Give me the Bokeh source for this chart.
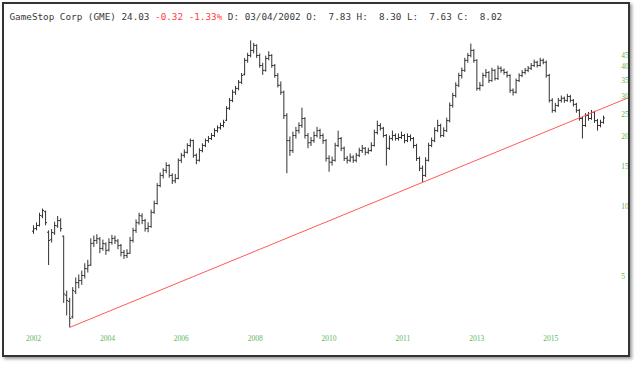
import numpy as np
from bokeh.plotting import figure
from bokeh.models import Range1d, FixedTicker, Label
from bokeh.embed import file_html
from bokeh.resources import INLINE

# ---- data (weekly-ish OHLC bars) ----
opens = [7.83, 8.05, 8.30, 9.10, 9.50, 7.75, 7.20, 7.70, 8.25, 8.70,
         7.45, 4.15, 3.90, 3.35, 4.30, 4.70, 4.80, 5.05, 5.40, 5.60,
         6.95, 7.15, 7.25, 6.60, 6.90, 6.50, 7.00, 7.30, 7.10, 6.80,
         6.35, 6.15, 6.30, 7.15, 7.90, 8.50, 9.10, 8.70, 8.05, 8.20,
         9.45, 10.3, 12.3, 13.6, 14.3, 15.0, 13.6, 12.9, 13.2, 15.8,
         16.6, 17.1, 18.3, 19.2, 16.6, 15.8, 17.4, 18.3, 19.2, 19.6,
         20.2, 21.2, 21.8, 22.3, 23.5, 26.5, 28.6, 31.0, 32.2, 34.2,
         37.0, 42.5, 44.6, 46.9, 49.3, 44.6, 40.4, 38.5, 43.3, 44.6,
         40.4, 36.6, 33.2, 31.0, 24.6, 19.2, 17.4, 20.2, 21.2, 22.3,
         23.9, 20.2, 18.8, 19.2, 20.2, 21.2, 20.2, 19.2, 16.1, 15.5,
         15.8, 18.3, 19.6, 17.8, 16.1, 15.8, 16.3, 15.8, 16.6, 17.4,
         17.8, 17.1, 17.4, 18.3, 20.8, 22.3, 21.7, 20.2, 17.8, 19.6,
         20.2, 19.6, 19.8, 20.2, 19.2, 20.0, 19.6, 18.3, 16.1, 14.6,
         13.6, 15.8, 18.3, 19.2, 21.2, 22.3, 20.2, 21.2, 23.4, 27.2,
         30.0, 33.2, 36.6, 38.5, 42.5, 44.6, 46.9, 42.5, 32.2, 33.2,
         36.6, 37.7, 34.8, 38.5, 35.5, 39.3, 38.5, 37.7, 36.6, 31.6,
         31.0, 34.8, 36.6, 37.7, 38.5, 39.3, 40.4, 41.7, 40.4, 42.5,
         41.7, 36.6, 28.6, 25.9, 27.2, 28.6, 29.2, 28.6, 29.7, 28.6,
         27.5, 25.9, 23.9, 22.3, 24.6, 23.9, 25.4, 23.4, 22.3, 23.0]

highs = [8.30, 8.55, 9.40, 9.80, 9.60, 7.90, 8.00, 8.60, 9.10, 8.90,
         7.50, 4.35, 4.05, 4.50, 4.95, 5.10, 5.30, 5.70, 5.90, 7.30,
         7.50, 7.60, 7.40, 7.20, 7.00, 7.30, 7.55, 7.50, 7.25, 6.90,
         6.50, 6.55, 7.40, 8.10, 8.80, 9.40, 9.35, 8.85, 8.55, 9.70,
         10.6, 12.6, 14.0, 14.6, 15.5, 15.2, 13.9, 13.8, 16.1, 17.0,
         17.6, 18.7, 19.6, 19.4, 16.9, 17.8, 18.7, 19.6, 20.1, 20.7,
         21.7, 22.3, 22.9, 23.6, 27.0, 29.3, 31.8, 33.0, 35.0, 37.5,
         43.5, 45.8, 51.8, 50.5, 49.8, 45.5, 41.5, 44.5, 46.5, 45.2,
         41.0, 37.5, 34.5, 31.5, 25.2, 20.0, 21.0, 22.0, 23.0, 26.6,
         24.2, 20.7, 19.9, 21.0, 22.0, 21.6, 20.6, 19.5, 16.6, 16.4,
         18.8, 21.2, 19.9, 18.1, 16.5, 16.9, 16.6, 17.0, 17.9, 18.4,
         18.0, 17.9, 18.9, 21.4, 23.4, 22.8, 22.0, 20.5, 20.2, 21.2,
         20.6, 20.6, 21.0, 20.5, 20.6, 20.4, 19.9, 18.6, 16.4, 15.0,
         16.3, 18.8, 19.8, 21.9, 23.6, 22.7, 21.9, 24.1, 28.0, 30.8,
         34.2, 37.6, 39.6, 43.6, 45.7, 50.2, 47.5, 43.0, 34.3, 37.6,
         39.0, 38.2, 39.5, 39.0, 40.4, 40.0, 39.2, 38.2, 37.0, 32.2,
         35.5, 37.4, 38.6, 39.4, 40.2, 41.4, 42.8, 42.3, 43.6, 43.3,
         42.4, 37.2, 29.2, 27.9, 29.3, 30.0, 29.7, 30.5, 30.2, 29.0,
         27.9, 26.3, 24.3, 25.2, 25.5, 26.0, 25.8, 23.8, 23.6, 24.6]

lows = [7.63, 7.90, 8.20, 8.90, 8.30, 5.60, 7.00, 7.55, 8.10, 7.80,
        3.85, 3.40, 3.02, 3.30, 4.20, 4.45, 4.60, 4.90, 5.20, 5.55,
        6.70, 6.90, 6.30, 6.45, 6.20, 6.40, 6.85, 6.90, 6.55, 6.10,
        5.95, 6.00, 6.25, 7.00, 7.70, 8.35, 8.40, 7.80, 7.75, 8.10,
        9.30, 10.2, 12.1, 13.2, 13.9, 13.3, 12.5, 12.6, 13.1, 15.4,
        16.2, 16.9, 18.0, 16.2, 15.2, 15.6, 17.1, 18.0, 18.8, 19.3,
        19.9, 20.8, 21.4, 21.9, 23.3, 26.0, 28.1, 30.2, 31.6, 33.6,
        36.6, 41.5, 43.8, 45.5, 43.5, 39.5, 36.8, 38.0, 42.5, 39.5,
        35.8, 32.5, 30.2, 23.8, 13.9, 16.5, 17.0, 19.6, 20.6, 21.8,
        19.6, 17.8, 18.2, 18.8, 19.8, 19.5, 18.6, 15.6, 14.1, 15.0,
        15.6, 18.0, 17.3, 15.7, 15.3, 15.5, 15.4, 15.5, 16.3, 17.0,
        16.6, 16.8, 17.2, 18.1, 20.4, 21.2, 19.8, 15.0, 17.5, 19.2,
        19.2, 19.2, 19.5, 18.7, 18.9, 19.1, 17.8, 15.7, 14.2, 12.7,
        13.4, 15.6, 18.0, 18.9, 20.9, 19.8, 19.9, 20.9, 23.0, 26.6,
        29.4, 32.6, 35.5, 37.9, 41.5, 43.8, 41.5, 31.5, 31.5, 32.8,
        35.8, 34.0, 34.4, 34.8, 35.0, 37.6, 36.9, 35.8, 30.8, 30.0,
        30.6, 34.3, 36.0, 37.0, 37.8, 38.6, 39.8, 39.6, 40.0, 40.9,
        35.8, 28.0, 25.3, 25.4, 26.8, 28.0, 27.9, 28.2, 28.0, 26.9,
        25.3, 23.4, 19.6, 22.0, 23.4, 23.6, 22.9, 21.2, 21.9, 22.7]

closes = [8.02, 8.28, 9.15, 9.61, 8.52, 7.14, 7.73, 8.28, 8.70, 8.03,
          4.20, 3.94, 3.30, 4.35, 4.71, 4.81, 5.05, 5.41, 5.57, 6.93,
          7.14, 7.28, 6.60, 6.93, 6.47, 7.00, 7.28, 7.14, 6.79, 6.34,
          6.15, 6.28, 7.14, 7.88, 8.53, 9.15, 8.70, 8.03, 8.20, 9.42,
          10.3, 12.3, 13.6, 14.3, 15.0, 13.6, 12.9, 13.2, 15.8, 16.6,
          17.1, 18.3, 19.2, 16.6, 15.8, 17.4, 18.3, 19.2, 19.6, 20.2,
          21.2, 21.8, 22.3, 23.0, 26.4, 28.6, 31.0, 32.2, 34.2, 36.6,
          42.5, 44.6, 46.9, 49.3, 44.6, 40.4, 38.5, 43.3, 44.6, 40.4,
          36.6, 33.2, 31.0, 24.6, 19.2, 17.4, 20.2, 21.2, 22.3, 23.9,
          20.2, 18.8, 19.2, 20.2, 21.2, 20.2, 19.2, 16.1, 15.5, 15.8,
          18.3, 19.6, 17.8, 16.1, 15.8, 16.3, 15.8, 16.6, 17.4, 17.8,
          17.1, 17.4, 18.3, 20.8, 22.3, 21.7, 20.2, 17.8, 19.6, 20.2,
          19.6, 19.8, 20.2, 19.2, 20.0, 19.6, 18.3, 16.1, 14.6, 13.6,
          15.8, 18.3, 19.2, 21.2, 22.3, 20.2, 21.2, 23.4, 27.2, 30.0,
          33.2, 36.6, 38.5, 42.5, 44.6, 46.9, 42.5, 32.2, 33.2, 36.6,
          37.7, 34.8, 38.5, 35.5, 39.3, 38.5, 37.7, 36.6, 31.6, 31.0,
          34.8, 36.6, 37.7, 38.5, 39.3, 40.4, 41.7, 40.4, 42.5, 41.7,
          36.6, 28.6, 25.9, 27.2, 28.6, 29.2, 28.6, 29.7, 28.6, 27.5,
          25.9, 23.9, 22.3, 24.6, 23.9, 25.4, 23.4, 22.3, 23.0, 24.03]

xtick_index = [0, 24.5, 49, 73.5, 98, 122.5, 147, 171.5]
xtick_labels = ["2002", "2004", "2006", "2008", "2010", "2011", "2013", "2015"]
ytick_values = [5, 10, 15, 20, 25, 30, 35, 40, 45]
trend_anchor_idx = [12, 129]   # bars whose lows the trend line joins

header_name = "GameStop Corp (GME) 24.03"
header_change = "-0.32 -1.33%"
header_rest = "D: 03/04/2002 O:\u00a0 7.83 H:\u00a0 8.30 L:\u00a0 7.63 C:\u00a0 8.02"

# ---- figure ----
n = len(closes)
idx = np.arange(n)

p = figure(width=628, height=355, y_axis_type="log",
           x_axis_location="below", y_axis_location="right",
           x_range=Range1d(-9.62, 198.6), y_range=Range1d(2.198, 73.9),
           output_backend="svg", toolbar_location=None,
           min_border_left=0, min_border_right=0, min_border_top=0, min_border_bottom=0)
p.styles = {"position": "absolute", "left": "2px", "top": "2px",
            "border": "2px solid #333333", "box-shadow": "2px 2px 3px #9a9a9a"}
p.outline_line_color = None
p.xgrid.visible = False
p.ygrid.visible = False
p.background_fill_color = "white"
p.border_fill_color = "white"

bar_color = "#333333"
p.segment(x0=idx, y0=lows, x1=idx, y1=highs, line_color=bar_color, line_width=1)
p.segment(x0=idx - 0.5, y0=opens, x1=idx, y1=opens, line_color=bar_color, line_width=1)
p.segment(x0=idx, y0=closes, x1=idx + 0.5, y1=closes, line_color=bar_color, line_width=1)

# trend line joining the two lows, extended to the right edge (straight in log space)
a, b = trend_anchor_idx
la, lb = np.log10(lows[a]), np.log10(lows[b])
slope = (lb - la) / (b - a)
x_end = p.x_range.end
p.line([a, x_end], [lows[a], 10 ** (la + slope * (x_end - a))],
       line_color="#ff5a5a", line_width=1)

green = "#5cb85c"
# y axis (right, drawn inside the frame)
yax = p.yaxis[0]
yax.fixed_location = 194.5
yax.ticker = FixedTicker(ticks=ytick_values)
yax.major_label_overrides = {v: str(v) for v in ytick_values}
yax.axis_line_color = None
yax.major_tick_line_color = None
yax.minor_tick_line_color = None
yax.major_tick_out = 0
yax.major_tick_in = 0
yax.minor_tick_out = 0
yax.major_label_standoff = 1
yax.major_label_text_color = green
yax.major_label_text_font = "Liberation Serif"
yax.major_label_text_font_size = "7.5px"

# x axis (bottom, drawn inside the frame)
xax = p.xaxis[0]
xax.fixed_location = 2.84
xax.ticker = FixedTicker(ticks=xtick_index)
xax.major_label_overrides = {t: l for t, l in zip(xtick_index, xtick_labels)}
xax.axis_line_color = None
xax.major_tick_line_color = None
xax.minor_tick_line_color = None
xax.major_tick_out = 0
xax.major_tick_in = 0
xax.minor_tick_out = 0
xax.major_label_standoff = 1
xax.major_label_text_color = green
xax.major_label_text_font = "Liberation Serif"
xax.major_label_text_font_size = "7.5px"

# header
fs = 9.3
cw = 0.602 * fs
hx, hy = 5, 343.5
parts = [(header_name, "#3a3a3a"), (header_change, "#ff3b3b"), (header_rest, "#3a3a3a")]
off = 0
for txt, col in parts:
    p.add_layout(Label(x=hx + off * cw, y=hy, x_units="screen", y_units="screen", text=txt,
                       text_font="DejaVu Sans Mono", text_font_size=f"{fs}px",
                       text_color=col, text_baseline="middle", text_align="left"))
    off += len(txt) + 1

open("out.html", "w").write(file_html(p, INLINE))
